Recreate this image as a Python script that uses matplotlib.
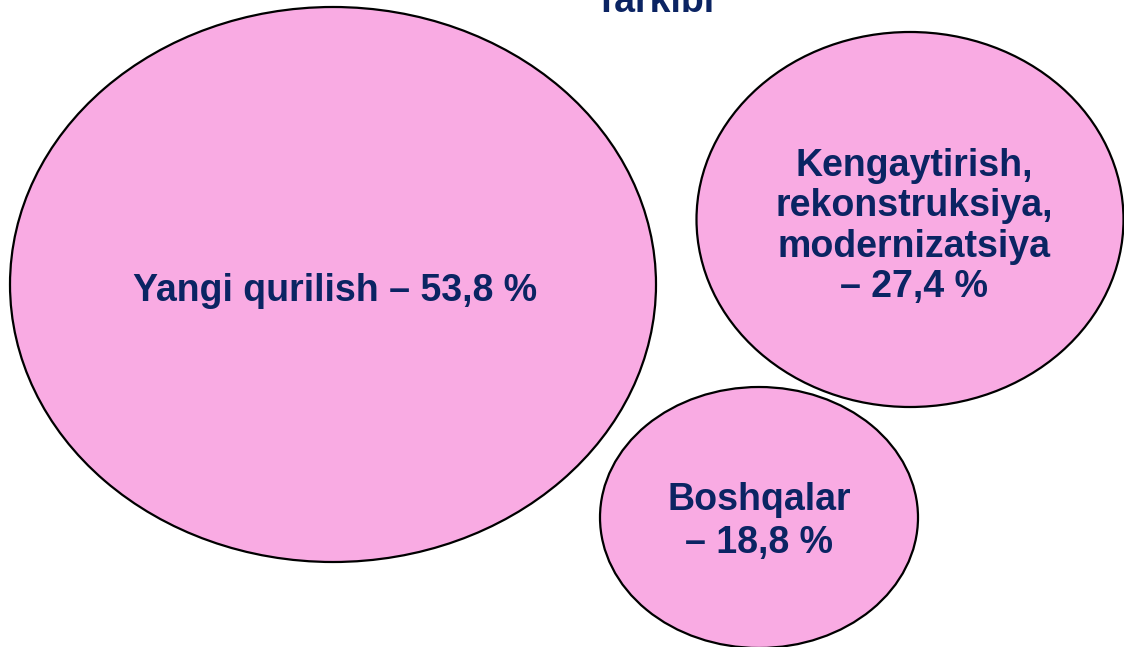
import matplotlib
matplotlib.use("Agg")
import matplotlib.pyplot as plt
from matplotlib.patches import Ellipse

# Data
categories = ["Yangi qurilish",
              "Kengaytirish,\nrekonstruksiya,\nmodernizatsiya",
              "Boshqalar"]
values = [53.8, 27.4, 18.8]
title = "Tarkibi"

# Layout (pixel coordinates): center x, center y, width, height
centers_x = [333, 910, 759]
centers_y = [284.5, 219.5, 517.5]
widths = [646, 427, 318]
heights = [555, 375, 261]
label_x = [335, 914, 759]
label_base = [301, 297, 553]   # baseline of last line
line_sp = [1.0, 1.16, 1.25]
one_line = [True, False, False]

fill = "#F9ABE3"
txt_color = "#0B2463"

W, H = 1124, 647
fig = plt.figure(figsize=(W / 100, H / 100), dpi=100)
ax = fig.add_axes([0, 0, 1, 1])
ax.set_xlim(0, W)
ax.set_ylim(H, 0)
ax.axis("off")

font = ["Liberation Sans", "DejaVu Sans"]

for cat, val, cx, cy, w, h, lx, lb, ls, ol in zip(categories, values, centers_x, centers_y,
                                                  widths, heights, label_x, label_base,
                                                  line_sp, one_line):
    e = Ellipse((cx, cy), w, h, facecolor=fill, edgecolor="black", linewidth=1.6)
    ax.add_patch(e)
    val_str = f"{val:.1f}".replace(".", ",")
    if ol:
        label = f"{cat} – {val_str} %"
    else:
        label = f"{cat}\n– {val_str} %"
    ax.text(lx, lb, label, ha="center", va="baseline", ma="center", fontsize=27,
            fontweight="bold", color=txt_color, family=font, linespacing=ls)

ax.text(655, 12, title, ha="center", va="baseline", fontsize=27, fontweight="bold",
        color=txt_color, family=font)
ax.set_ylim(H, 0)

fig.savefig("out.png", dpi=100)
